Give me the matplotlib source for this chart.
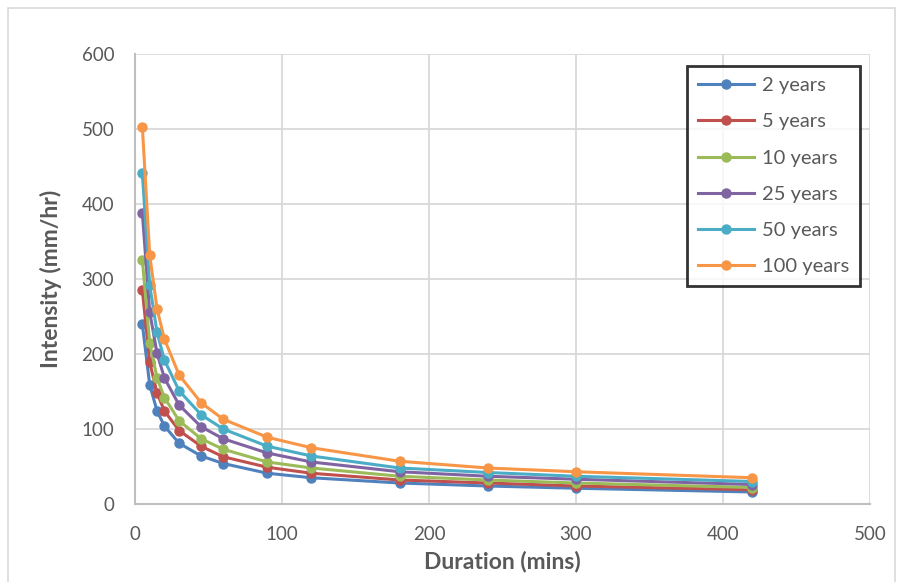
import matplotlib
matplotlib.use("Agg")
import matplotlib.pyplot as plt
from matplotlib.patches import Rectangle

# durations in minutes
durations = [5, 10, 15, 20, 30, 45, 60, 90, 120, 180, 240, 300, 420]

# intensities (mm/hr)
i_2yr = [240, 159, 124, 104, 81, 64, 54, 41, 35, 28, 24, 21, 16]
i_5yr = [285, 189, 148, 124, 98, 77, 63, 49, 41, 32, 28, 24, 19]
i_10yr = [325, 215, 168, 142, 111, 87, 73, 56, 48, 37, 32, 28, 22]
i_25yr = [388, 256, 201, 168, 132, 103, 87, 68, 56, 43, 37, 33, 26]
i_50yr = [441, 292, 229, 192, 151, 119, 100, 77, 64, 48, 42, 37, 30]
i_100yr = [503, 332, 260, 220, 172, 135, 113, 89, 75, 57, 48, 43, 35]

series_labels = ["2 years", "5 years", "10 years", "25 years", "50 years", "100 years"]
series_values = [i_2yr, i_5yr, i_10yr, i_25yr, i_50yr, i_100yr]
colors = ["#4F81BD", "#C0504D", "#9BBB59", "#8064A2", "#4BACC6", "#F79646"]

plt.rcParams["font.family"] = ["Lato", "DejaVu Sans"]
text_col = "#595959"

fig = plt.figure(figsize=(9.01, 5.82), dpi=100)
ax = fig.add_axes([135 / 901, 78 / 582, 735 / 901, 450 / 582])

# chart area border (Excel style)
fig.patches.append(Rectangle((8 / 901, -0.01), 887 / 901, 1 - 8 / 582 + 0.01,
                             transform=fig.transFigure, fill=False,
                             edgecolor="#D9D9D9", linewidth=1.2))

for label, vals, c in zip(series_labels, series_values, colors):
    ax.plot(durations, vals, color=c, linewidth=2.2, marker="o", markersize=6.5,
            label=label)

ax.set_xlim(0, 500)
ax.set_ylim(0, 600)
ax.set_xticks(range(0, 501, 100))
ax.set_yticks(range(0, 601, 100))
ax.grid(True, color="#D9D9D9", linewidth=1.3)
ax.set_axisbelow(True)

for side in ["top", "right"]:
    ax.spines[side].set_visible(False)
for side in ["left", "bottom"]:
    ax.spines[side].set_color("#BFBFBF")
    ax.spines[side].set_linewidth(1.5)

ax.tick_params(length=0, labelsize=13.5, colors=text_col)
ax.tick_params(axis="x", pad=16)
ax.tick_params(axis="y", pad=15)
ax.set_xlabel("Duration (mins)", fontsize=16.5, fontweight="bold",
              color=text_col, labelpad=5)
ax.set_ylabel("Intensity (mm/hr)", fontsize=16.5, fontweight="bold",
              color=text_col, labelpad=14)

leg = ax.legend(loc="upper left", bbox_to_anchor=(552 / 735, 1 - 12 / 450),
                fontsize=14.5, frameon=True, fancybox=False,
                borderpad=0.55, labelspacing=0.95, handlelength=2.8,
                handletextpad=0.35, borderaxespad=0)
leg.get_frame().set_edgecolor("black")
leg.get_frame().set_linewidth(2)
for t in leg.get_texts():
    t.set_color(text_col)
for h in leg.legend_handles:
    h.set_markersize(6.5)

fig.savefig("out.png", dpi=100)
